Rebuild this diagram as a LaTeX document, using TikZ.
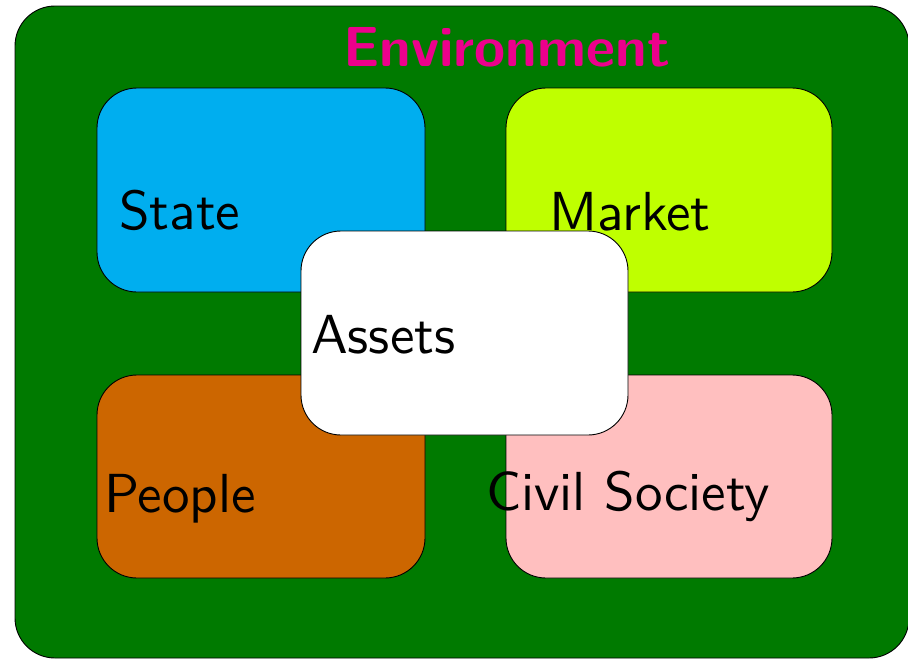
\documentclass[tikz,border=0pt]{standalone}
\usepackage{fontspec}
\setsansfont{lmsans10-regular.otf}[BoldFont=lmsans10-bold.otf]
\usepackage{tikz}
\definecolor{envgreen}{HTML}{007A00}
\definecolor{statecyan}{HTML}{00AEEF}
\definecolor{marketlime}{HTML}{BFFF00}
\definecolor{peopleorange}{HTML}{CC6600}
\definecolor{civilpink}{HTML}{FFBFBF}
\definecolor{envmagenta}{HTML}{EC008C}
\tikzset{
  blob/.style={draw=black, line width=0.9pt, rounded corners=40pt},
  lbl/.style={anchor=base west, inner sep=0pt, font=\sffamily\fontsize{55}{60}\selectfont}
}

\begin{document}
\begin{tikzpicture}[x=1pt,y=-1pt]
            \useasboundingbox (0,0) rectangle (908,659);
            \coordinate (envNW) at (15,6);
            \coordinate (envSE) at (909,658);
            \draw[blob,fill=envgreen] (envNW) rectangle (envSE);
            \node[anchor=base west, inner sep=0pt, text=envmagenta,
                  font=\sffamily\bfseries\fontsize{56.5}{60}\selectfont] (env) at (343,66) {Environment};
            % the four sectors
            \draw[blob,fill=statecyan] (97,88) rectangle (425,292);
            \draw[blob,fill=marketlime] (506,88) rectangle (832,292);
            \draw[blob,fill=peopleorange] (97,375) rectangle (425,578);
            \draw[blob,fill=civilpink] (506,375) rectangle (832,578);
            \node[lbl] (state) at (119,229) {State};
            \node[lbl] (market) at (549,230) {Market};
            \node[lbl] (people) at (104,512) {People};
            \node[lbl] (civil) at (486,510) {Civil Society};
            % assets in the middle
            \draw[blob,fill=white] (301,231) rectangle (628,435);
            \node[lbl] (assets) at (311,353) {Assets};
        \end{tikzpicture}
\end{document}
